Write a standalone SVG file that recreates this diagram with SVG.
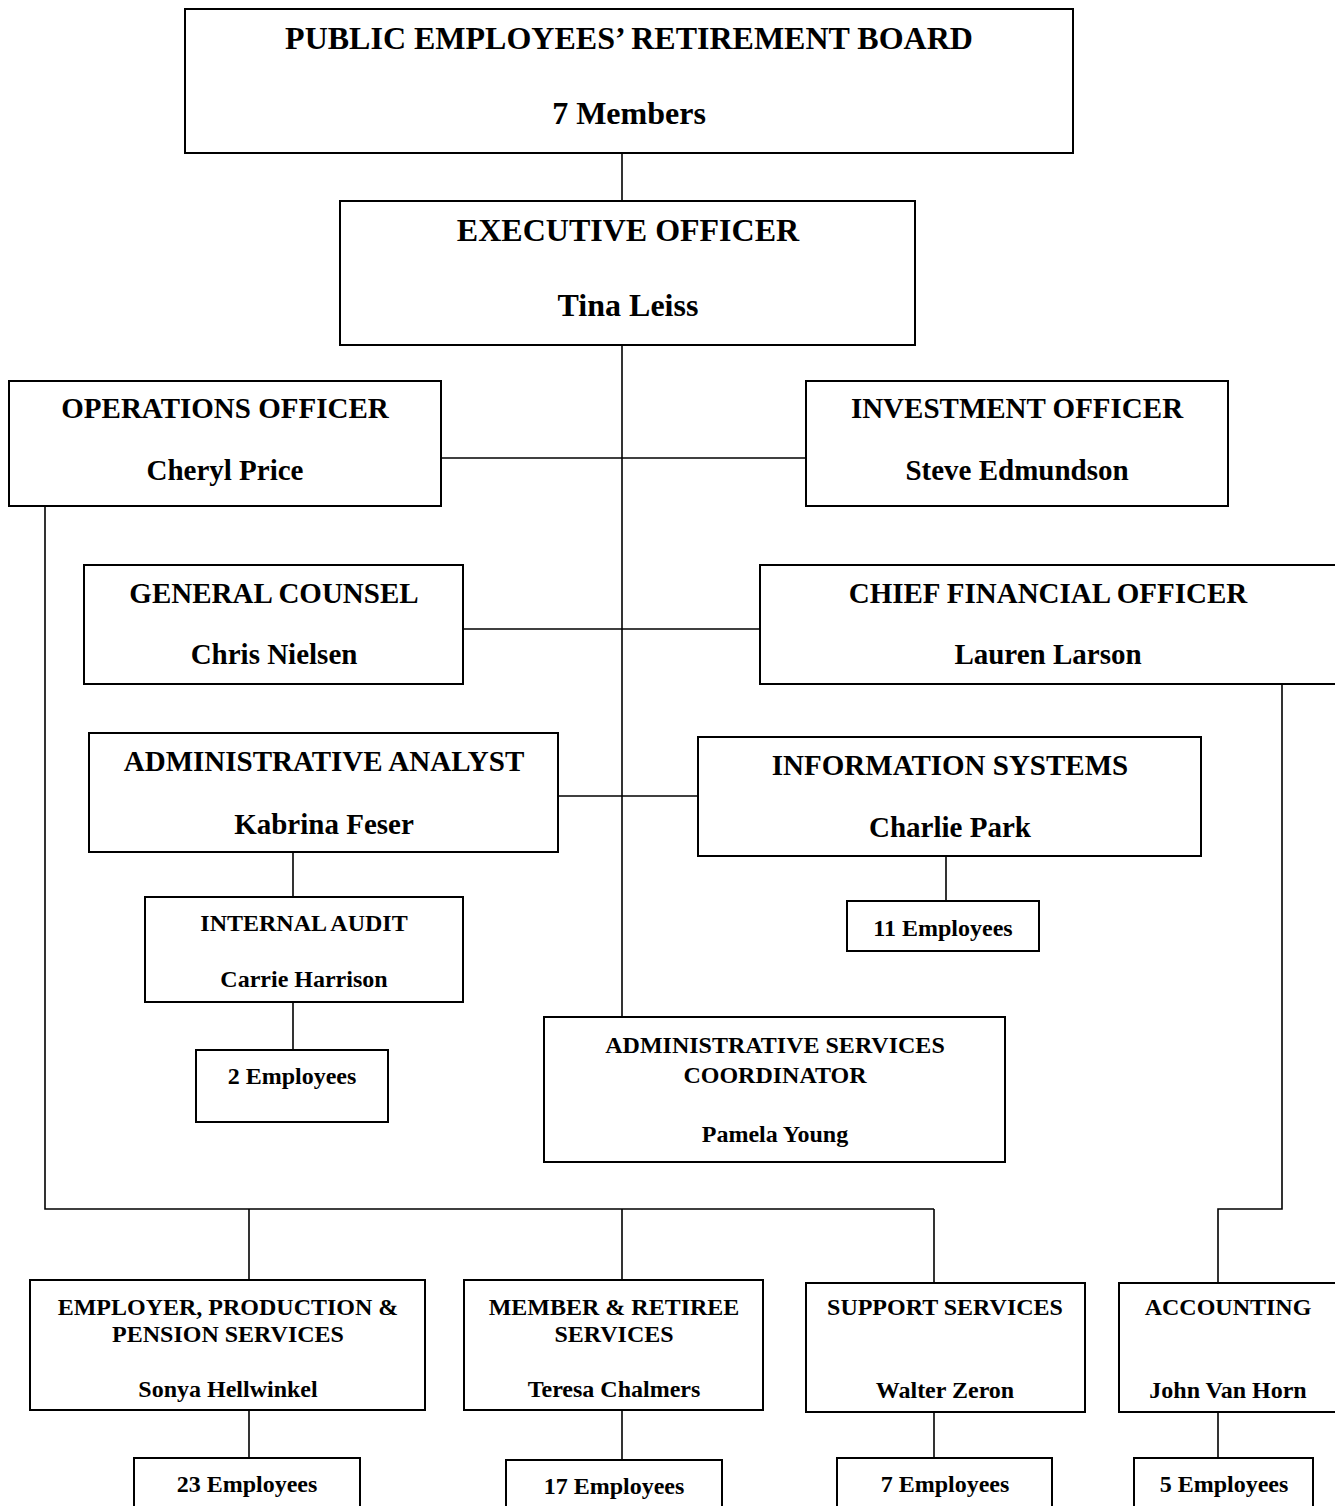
<svg xmlns="http://www.w3.org/2000/svg" width="1335" height="1506" viewBox="0 0 1335 1506">
<style>
rect{fill:#fff;stroke:#000;stroke-width:2}
text{font-family:"Liberation Serif","Times New Roman",serif;font-weight:bold;fill:#000;text-anchor:middle}
.xl{font-size:32px}
.l{font-size:29px}
.s{font-size:24px}
#connectors path{fill:none;stroke:#000;stroke-width:1.6}
</style>
<rect x="0" y="0" width="1335" height="1506" style="stroke:none"/>
<g id="connectors">
<path d="M622 153V201"/>
<path d="M622 345V1017"/>
<path d="M441 458H806"/>
<path d="M463 629H760"/>
<path d="M558 796H697"/>
<path d="M45 506V1209H934"/>
<path d="M293 852V897"/>
<path d="M293 1002V1050"/>
<path d="M946 856V905"/>
<path d="M249 1209V1280"/>
<path d="M622 1209V1280"/>
<path d="M934 1209V1283"/>
<path d="M1282 684V1209H1218V1283"/>
<path d="M249 1410V1458"/>
<path d="M622 1410V1460"/>
<path d="M934 1412V1458"/>
<path d="M1218 1412V1458"/>
</g>
<g id="board"><rect x="185" y="9" width="888" height="144"/><text class="xl" x="629" y="49">PUBLIC EMPLOYEES’ RETIREMENT BOARD</text><text class="xl" x="629" y="124">7 Members</text></g>
<g id="exec"><rect x="340" y="201" width="575" height="144"/><text class="xl" x="628" y="241">EXECUTIVE OFFICER</text><text class="xl" x="628" y="316">Tina Leiss</text></g>
<g id="ops"><rect x="9" y="381" width="432" height="125"/><text class="l" x="225" y="418">OPERATIONS OFFICER</text><text class="l" x="225" y="480">Cheryl Price</text></g>
<g id="invest"><rect x="806" y="381" width="422" height="125"/><text class="l" x="1017" y="418">INVESTMENT OFFICER</text><text class="l" x="1017" y="480">Steve Edmundson</text></g>
<g id="counsel"><rect x="84" y="565" width="379" height="119"/><text class="l" x="274" y="603">GENERAL COUNSEL</text><text class="l" x="274" y="664">Chris Nielsen</text></g>
<g id="cfo"><rect x="760" y="565" width="580" height="119"/><text class="l" x="1048" y="603">CHIEF FINANCIAL OFFICER</text><text class="l" x="1048" y="664">Lauren Larson</text></g>
<g id="analyst"><rect x="89" y="733" width="469" height="119"/><text class="l" x="324" y="771">ADMINISTRATIVE ANALYST</text><text class="l" x="324" y="834">Kabrina Feser</text></g>
<g id="infosys"><rect x="698" y="737" width="503" height="119"/><text class="l" x="950" y="775">INFORMATION SYSTEMS</text><text class="l" x="950" y="837">Charlie Park</text></g>
<g id="is-emp"><rect x="847" y="901" width="192" height="50"/><text class="s" x="943" y="936">11 Employees</text></g>
<g id="audit"><rect x="145" y="897" width="318" height="105"/><text class="s" x="304" y="931">INTERNAL AUDIT</text><text class="s" x="304" y="987">Carrie Harrison</text></g>
<g id="audit-emp"><rect x="196" y="1050" width="192" height="72"/><text class="s" x="292" y="1084">2 Employees</text></g>
<g id="asc"><rect x="544" y="1017" width="461" height="145"/><text class="s" x="775" y="1053">ADMINISTRATIVE SERVICES</text><text class="s" x="775" y="1083">COORDINATOR</text><text class="s" x="775" y="1142">Pamela Young</text></g>
<g id="epps"><rect x="30" y="1280" width="395" height="130"/><text class="s" x="228" y="1315">EMPLOYER, PRODUCTION &amp;</text><text class="s" x="228" y="1342">PENSION SERVICES</text><text class="s" x="228" y="1397">Sonya Hellwinkel</text></g>
<g id="mrs"><rect x="464" y="1280" width="299" height="130"/><text class="s" x="614" y="1315">MEMBER &amp; RETIREE</text><text class="s" x="614" y="1342">SERVICES</text><text class="s" x="614" y="1397">Teresa Chalmers</text></g>
<g id="support"><rect x="806" y="1283" width="279" height="129"/><text class="s" x="945" y="1315">SUPPORT SERVICES</text><text class="s" x="945" y="1398">Walter Zeron</text></g>
<g id="accounting"><rect x="1119" y="1283" width="220" height="129"/><text class="s" x="1228" y="1315">ACCOUNTING</text><text class="s" x="1228" y="1398">John Van Horn</text></g>
<g id="epps-emp"><rect x="134" y="1458" width="226" height="60"/><text class="s" x="247" y="1492">23 Employees</text></g>
<g id="mrs-emp"><rect x="506" y="1460" width="216" height="60"/><text class="s" x="614" y="1494">17 Employees</text></g>
<g id="support-emp"><rect x="837" y="1458" width="215" height="60"/><text class="s" x="945" y="1492">7 Employees</text></g>
<g id="acct-emp"><rect x="1134" y="1458" width="179" height="60"/><text class="s" x="1224" y="1492">5 Employees</text></g>
</svg>
